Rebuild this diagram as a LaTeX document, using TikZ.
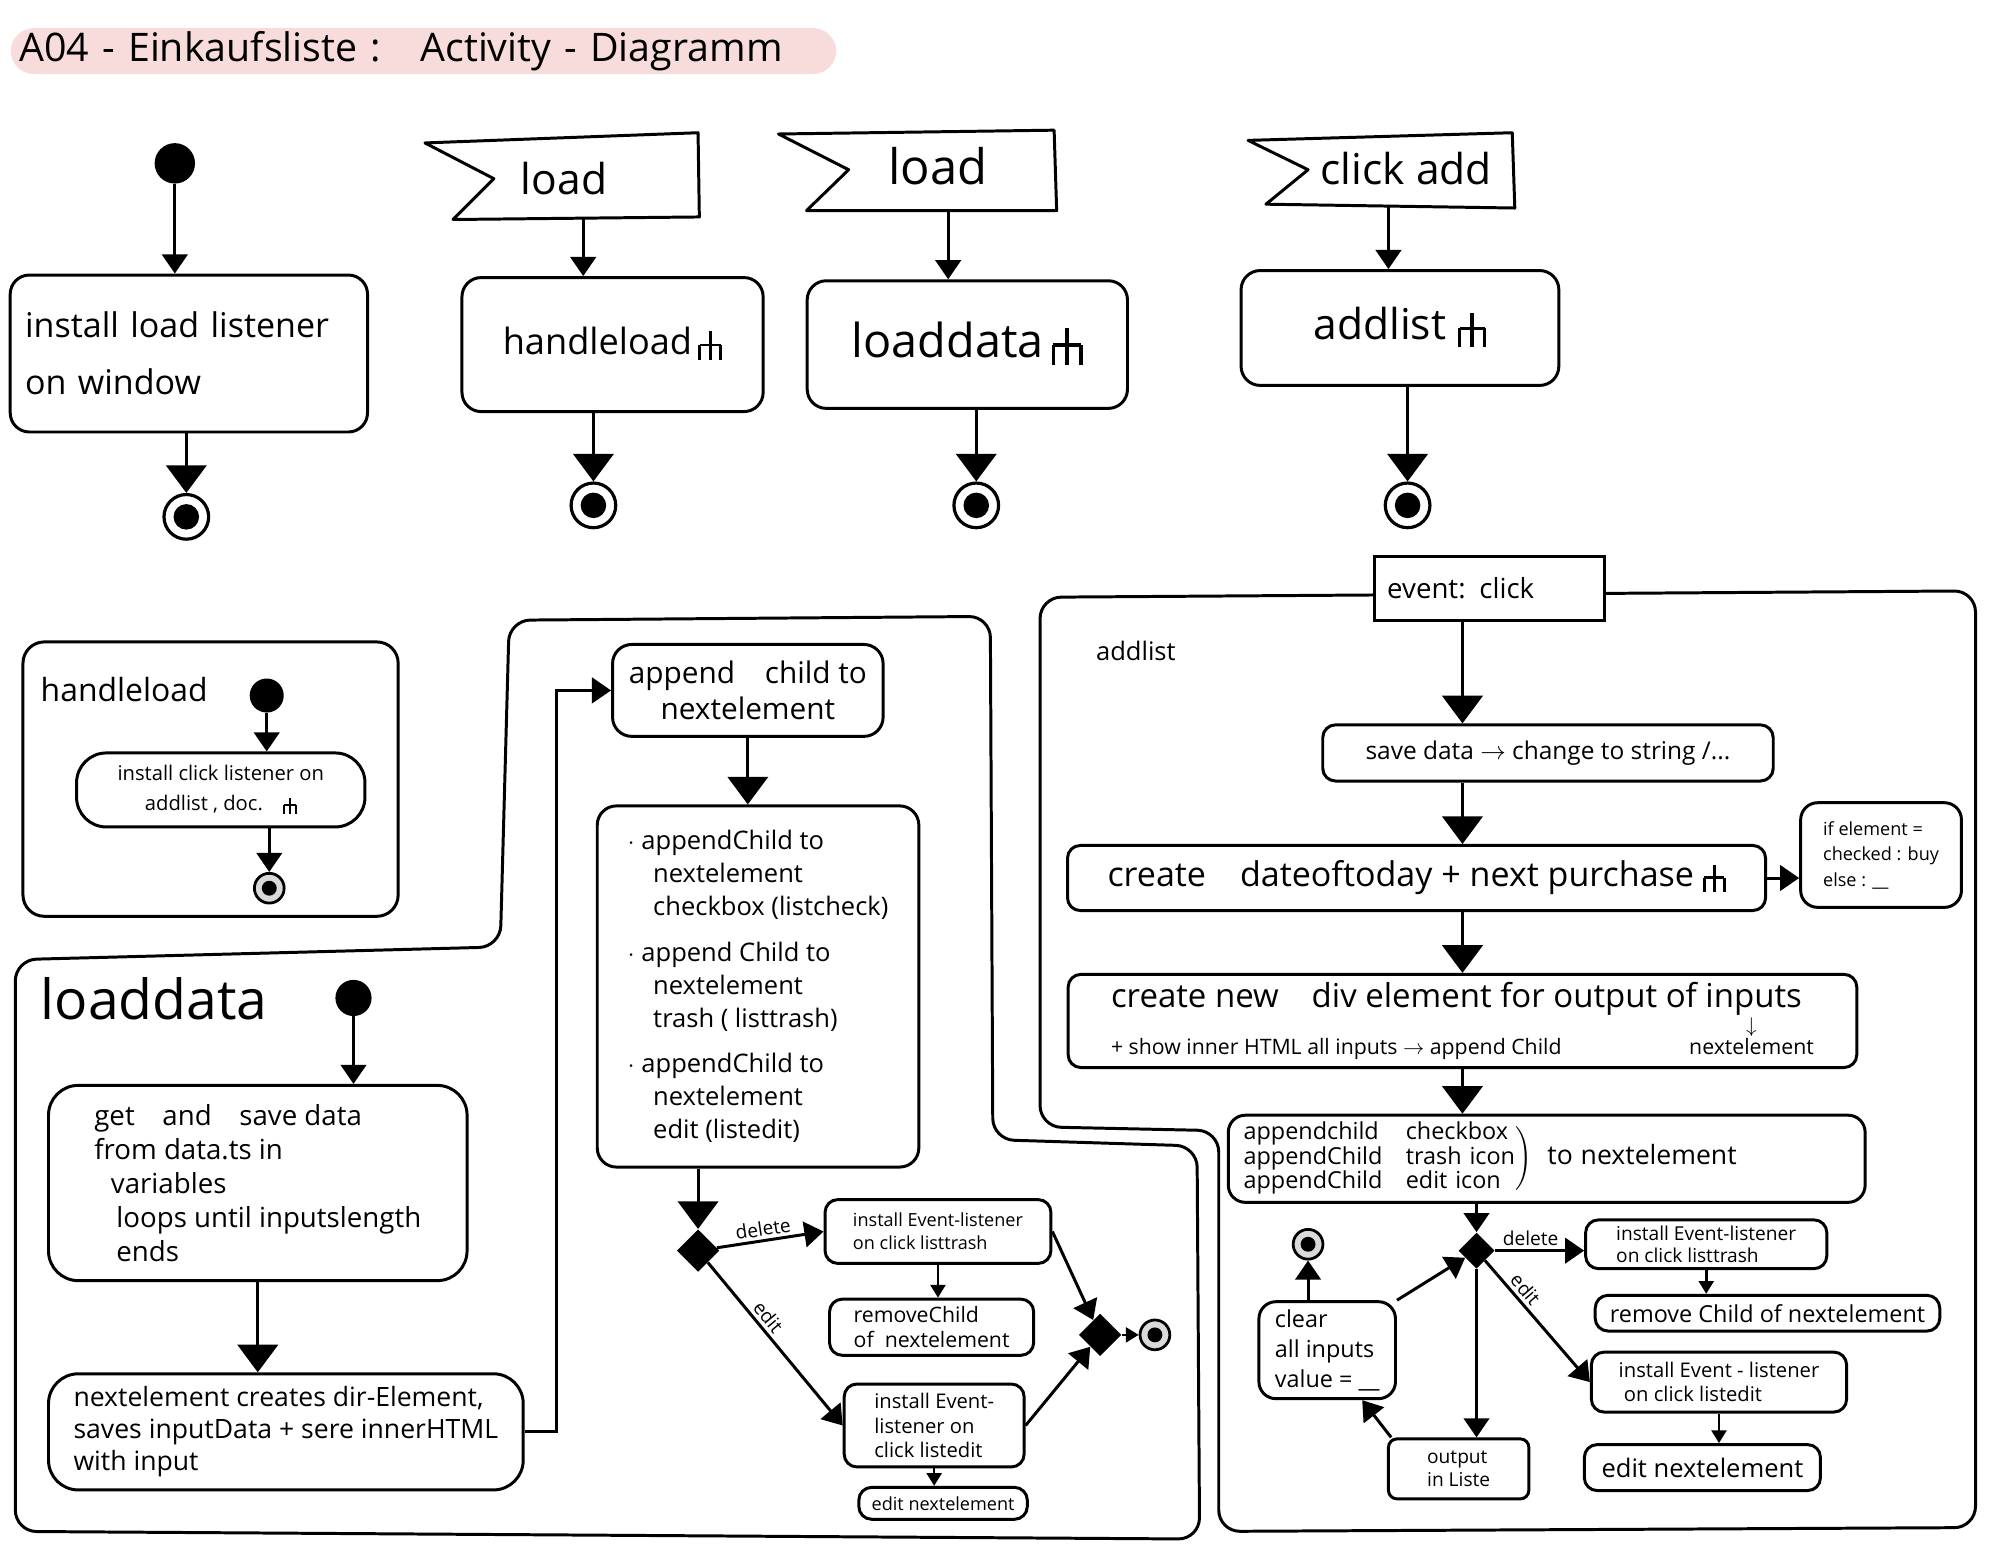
\documentclass[tikz,border=0pt]{standalone}
\usepackage{fontspec}
\setmainfont{Open Sans}
\usetikzlibrary{arrows.meta,shapes.geometric}
\definecolor{titlepink}{HTML}{F8DCDC}
\newcommand{\callsym}{\raisebox{-0.3ex}{\tikz[baseline=0pt,x=1ex,y=1ex,line width=0.08em]{\draw (0,0)--(0,1.5) (-0.55,0.8)--(0.55,0.8) (-0.55,0.8)--(-0.55,0) (0.55,0.8)--(0.55,0);}}}
\tikzset{
  box/.style={draw, line width=1.4pt, rounded corners=9pt, inner sep=3pt, align=center, fill=white},
  sqbox/.style={draw, line width=1.4pt, inner sep=3pt, align=left, fill=white},
  frame/.style={draw, line width=1.4pt, rounded corners=10pt},
  sig/.style={draw, line width=1.4pt, line join=round},
  sz/.style 2 args={minimum width=#1*0.6pt, minimum height=#2*0.6pt},
  fs/.style 2 args={font=\fontsize{#1}{#2}\selectfont},
  startn/.style={circle, fill=black, inner sep=0pt, minimum size=19pt},
  endn/.style={circle, draw, fill=white, line width=1.5pt, inner sep=0pt, minimum size=21pt,
    path picture={\fill[black] (path picture bounding box.center) circle (6pt);}},
  smend/.style={circle, draw, fill=black!15, line width=1.3pt, inner sep=0pt, minimum size=14pt,
    path picture={\fill[black] (path picture bounding box.center) circle (3.5pt);}},
  dec/.style={diamond, fill=black, inner sep=0pt, minimum size=#1},
  dec/.default=20pt,
  arr/.style={line width=1.4pt, -{Triangle[length=9pt,width=12pt]}},
  arrbig/.style={line width=1.4pt, -{Triangle[length=13pt,width=19pt]}},
  arrsm/.style={line width=1.2pt, -{Triangle[length=6pt,width=7pt]}},
  lbl/.style={fs={9}{10}, sloped, above, inner sep=1.5pt},
}
\begin{document}
\begin{tikzpicture}[x=0.6pt,y=-0.6pt]
\fill[white] (0,0) rectangle (1568,1218);
\useasboundingbox (0,0) rectangle (1568,1218);

% title
\node[fill=titlepink, rounded corners=11pt, sz={647}{36}, fs={18.5}{20}, anchor=west, inner xsep=4pt, inner ysep=0pt, text width=380pt, align=left] (title) at (8,40) {A04 - Einkaufsliste :\quad Activity - Diagramm};

% column 1
\node[startn] (s1) at (137,128) {};
\node[box, sz={280}{123}, fs={16}{27}, align=left, inner xsep=7pt, text width=154pt] (a1) at (148,277) {install load listener\\on window};
\node[endn] (e1) at (146,405) {};
\draw[arr] (s1) -- (s1 |- a1.north);
\draw[arrbig] (a1.south -| e1) -- (e1);

% column 2
\draw[sig] (333,112) -- (547,104) -- (548,170) -- (355,172) -- (387,140) -- cycle;
\node[fs={20}{22}] (l1) at (442,140) {load};
\coordinate (l1b) at (457,171);
\node[box, sz={236}{105}, fs={17}{20}] (a2) at (480,270) {handleload\,\callsym};
\node[endn] (e2) at (465,396) {};
\draw[arr] (l1b) -- (l1b |- a2.north);
\draw[arrbig] (a2.south -| e2) -- (e2);

% column 3
\draw[sig] (610,105) -- (826,102) -- (828,165) -- (632,165) -- (665,133) -- cycle;
\node[fs={23}{25}] (l2) at (735,130) {load};
\coordinate (l2b) at (743,165);
\node[box, sz={251}{100}, fs={22}{24}] (a3) at (758,270) {loaddata\,\callsym};
\node[endn] (e3) at (765,396) {};
\draw[arr] (l2b) -- (l2b |- a3.north);
\draw[arrbig] (a3.south -| e3) -- (e3);

% column 4
\draw[sig] (978,110) -- (1185,104) -- (1187,163) -- (992,160) -- (1025,133) -- cycle;
\node[fs={20}{22}] (l3) at (1102,132) {click add};
\coordinate (l3b) at (1088,162);
\node[box, sz={249}{90}, fs={20}{22}] (a4) at (1097,257) {addlist\;\callsym};
\node[endn] (e4) at (1103,396) {};
\draw[arr] (l3b) -- (l3b |- a4.north);
\draw[arrbig] (a4.south -| e4) -- (e4);

% handleload panel
\draw[frame] (18,503) rectangle (312,718);
\node[fs={15}{17}, anchor=west] (p1) at (26,540) {handleload};
\node[startn, minimum size=16pt] (s2) at (209,545) {};
\node[box, rounded corners=14pt, sz={226}{58}, fs={9.5}{14}] (b1) at (173,619) {install click listener on\\addlist , doc.\quad\callsym};
\node[smend] (e5) at (211,696) {};
\draw[arr] (s2) -- (s2 |- b1.north);
\draw[arr] (b1.south -| e5) -- (e5);

% loaddata + middle outline
\draw[frame] (12,1200) -- (12,752) -- (392,742) -- (399,486) -- (776,483) -- (778,893) -- (938,898) -- (940,1206) -- cycle;
\node[fs={26}{28}, anchor=west] (p2) at (26,783) {loaddata};
\node[startn, minimum size=17pt] (s3) at (277,782) {};
\node[box, rounded corners=14pt, sz={328}{153}, fs={13}{16}, align=left] (c1) at (202,927) {get\quad and\quad save data\\from data.ts in\\\hspace*{0.6em}variables\\\hspace*{0.8em}loops until inputslength\\\hspace*{0.8em}ends};
\node[box, rounded corners=14pt, sz={372}{91}, fs={12.5}{15}, align=left] (c2) at (224,1122) {nextelement creates dir-Element,\\saves inputData + sere innerHTML\\with input};
\draw[arr] (s3) -- (s3 |- c1.north);
\draw[arrbig] (c1.south) -- (c1.south |- c2.north);

% middle
\node[box, sz={212}{72}, fs={14}{17}] (m1) at (586,541) {append\quad child to\\nextelement};
\draw[arr] (c2.east) -- ++(25,0) |- (m1.west);
\node[box, sz={252}{283}, fs={12}{15.5}, align=left] (m2) at (594,773) {$\cdot$\ appendChild to\\\hspace*{1em}nextelement\\\hspace*{1em}checkbox (listcheck)\\[6pt]$\cdot$\ append Child to\\\hspace*{1em}nextelement\\\hspace*{1em}trash ( listtrash)\\[6pt]$\cdot$\ appendChild to\\\hspace*{1em}nextelement\\\hspace*{1em}edit (listedit)};
\node[dec] (d1) at (547,980) {};
\node[box, rounded corners=6pt, sz={177}{50}, fs={8.5}{11}, align=left] (m3) at (735,965) {install Event-listener\\on click listtrash};
\node[box, rounded corners=6pt, sz={160}{44}, fs={10}{11.5}, align=left] (m4) at (730,1040) {removeChild\\of\ \ nextelement};
\node[box, rounded corners=6pt, sz={141}{65}, fs={9.5}{11.5}, align=left] (m5) at (732,1117) {install Event-\\listener on\\click listedit};
\node[box, rounded corners=6pt, sz={132}{25}, fs={8.5}{10}, inner sep=1pt] (m6) at (739,1178) {edit nextelement};
\node[dec] (d2) at (862,1046) {};
\node[smend] (e6) at (905,1046) {};
\draw[arrbig] (m1.south) -- (m1.south |- m2.north);
\draw[arrbig] (m2.south -| d1) -- (d1);
\draw[arr] (d1) -- (m3.west) node[lbl, pos=0.45] {delete};
\draw[arr] (d1) -- (m5.west) node[lbl, pos=0.38] {edit};
\draw[arrsm] (m3.south) -- (m3.south |- m4.north);
\draw[arrsm] (m5.south) -- (m5.south |- m6.north);
\draw[arr] (m3.east) -- (d2);
\draw[arr] (m5.east) -- (d2);
\draw[arrsm] (d2) -- (e6);

% addlist frame
\draw[frame] (955,1200) -- (955,886) -- (815,883) -- (815,468) -- (1548,463) -- (1548,1197) -- cycle;
\node[sqbox, sz={180}{50}, fs={13}{15}, text width=96pt] (ev) at (1167,461) {event: click};
\node[fs={12}{14}, anchor=west] (p3) at (853,510) {addlist};
\node[box, rounded corners=6pt, sz={353}{44}, fs={11.5}{14}] (f1) at (1213,590) {save data $\to$ change to string /...};
\node[box, rounded corners=6pt, sz={547}{51}, fs={16}{18}] (f2) at (1110,688) {create\quad dateoftoday + next purchase \callsym};
\node[box, rounded corners=8pt, sz={126}{82}, fs={8.5}{12}, align=left] (f3) at (1474,670) {if element =\\checked : buy\\else : \_\_};
\node[box, rounded corners=6pt, sz={618}{73}, align=left] (f4) at (1146,800) {{\fontsize{15.5}{18}\selectfont create new\quad div element for output of inputs}\\{\fontsize{10}{12}\selectfont + show inner HTML all inputs $\to$ append Child\hspace{6em}\shortstack{$\downarrow$\\[-2pt]nextelement}}};
\node[box, rounded corners=8pt, sz={499}{65}, fs={11}{11}, align=left, inner xsep=7pt, text width=285pt] (f5) at (1212,908) {{\begin{tabular}{@{}l@{\quad}l@{}}appendchild & checkbox\\ appendChild & trash icon\\ appendChild & edit icon\end{tabular}}$\Biggr)$\ \ {\fontsize{12.5}{14}\selectfont to nextelement}};
\node[dec=17pt] (d3) at (1157,980) {};
\node[box, rounded corners=6pt, sz={189}{34}, fs={9}{10}, align=left] (g1) at (1337,975) {install Event-listener\\on click listtrash};
\node[box, rounded corners=6pt, sz={270}{28}, fs={11}{12}] (g2) at (1385,1029) {remove Child of nextelement};
\node[box, rounded corners=6pt, sz={200}{47}, fs={9.5}{11}, align=left] (g3) at (1347,1083) {install Event - listener\\\ on click listedit};
\node[box, rounded corners=6pt, sz={185}{36}, fs={12}{14}] (g4) at (1334,1150) {edit nextelement};
\node[box, rounded corners=4pt, sz={110}{47}, fs={9}{11}, align=left] (g5) at (1143,1151) {output\\in Liste};
\node[box, rounded corners=8pt, sz={107}{76}, fs={11}{14}, align=left] (g6) at (1040,1058) {clear\\all inputs\\value = \_\_};
\node[smend] (e7) at (1025,975) {};
\draw[arrbig] (ev.south -| f4.north) -- (f1.north -| f4.north);
\draw[arrbig] (f1.south -| f4.north) -- (f2.north -| f4.north);
\draw[arrbig] (f2.south -| f4.north) -- (f4.north);
\draw[arrbig] (f4.south) -- (f4.south |- f5.north);
\draw[arr] (f2.east) -- (f2.east -| f3.west);
\draw[arr] (f5.south -| d3) -- (d3);
\draw[arr] (d3) -- (d3 -| g1.west) node[lbl, pos=0.4] {delete};
\draw[arrsm] (g1.south) -- (g1.south |- g2.north);
\draw[arr] (d3) -- (g3.west) node[lbl, pos=0.3] {edit};
\draw[arrsm] (g3.south) -- (g3.south |- g4.north);
\draw[arr] (d3) -- (d3 |- g5.north);
\draw[arr] (g5.155) -- (g6.-55);
\draw[arr] (g6.north east) -- (d3);
\draw[arr] (g6.north -| e7) -- (e7);
\end{tikzpicture}
\end{document}
